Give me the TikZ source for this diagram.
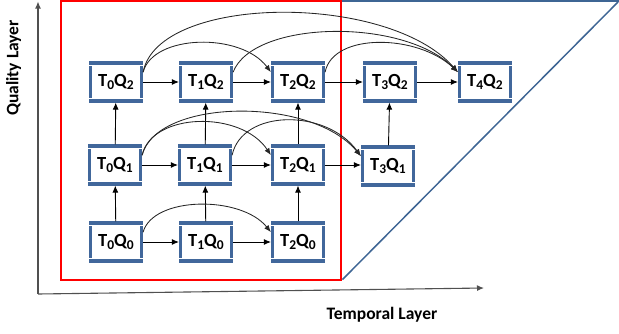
\documentclass[tikz,border=0pt]{standalone}
\usepackage{fontspec}
\setmainfont{Carlito}
\usetikzlibrary{arrows.meta,calc}
\definecolor{boxblue}{HTML}{41679B}
\definecolor{triblue}{HTML}{3E6594}
\definecolor{axisgray}{HTML}{505050}
\newcommand\sbs[1]{\raisebox{-2.8pt}{\fontsize{13.5}{15}\selectfont #1}}
\newcommand\lab[2]{T\sbs{#1}Q\sbs{#2}}
\tikzset{
  stepbox/.style={draw=boxblue, line width=3.2pt, fill=white, minimum width=51pt,
    minimum height=38pt, inner sep=0pt, font=\fontsize{18.5}{21}\selectfont\bfseries},
  notch/.style={draw=white, line width=0.9pt},
  flow/.style={draw=black, line width=0.9pt, -{Latex[length=7pt,width=6pt]}},
  arc/.style={draw=black!85, line width=0.85pt, -{Latex[length=7pt,width=5.5pt]}},
  axis/.style={draw=axisgray, line width=1.1pt, -{Latex[length=7pt,width=6pt]}, draw},
  axlabel/.style={font=\fontsize{17.5}{20}\selectfont\bfseries, inner sep=0pt}
}
\begin{document}
\begin{tikzpicture}[x=1pt,y=-1pt]
\useasboundingbox (0,0) rectangle (619,333);
% frames
\draw[red, line width=2pt] (61,1.2) rectangle (341,280);
\draw[triblue, line width=2.2pt] (342,1.2) -- (619,1.2);
\draw[triblue, line width=1.5pt] (618,2) -- (342.5,279.5);
% axes
\coordinate (o) at (38,294);
\coordinate (ytip) at (38,1.5);
\coordinate (xtip) at (484,288);
\draw[axis] (o) -- (ytip);
\draw[axis] (o) -- (xtip);
\node[axlabel, rotate=90] (ql) at (13.5,68) {Quality Layer};
\node[axlabel] (tl) at (382,315) {Temporal Layer};
% nodes
\node[stepbox] (t0q2) at (116,82) {\lab{0}{2}};
\node[stepbox] (t1q2) at (206,82) {\lab{1}{2}};
\node[stepbox] (t2q2) at (298,82) {\lab{2}{2}};
\node[stepbox] (t3q2) at (390,82) {\lab{3}{2}};
\node[stepbox] (t4q2) at (485,82) {\lab{4}{2}};
\node[stepbox] (t0q1) at (115,165) {\lab{0}{1}};
\node[stepbox] (t1q1) at (205,165) {\lab{1}{1}};
\node[stepbox] (t2q1) at (298,165) {\lab{2}{1}};
\node[stepbox] (t3q1) at (388,166) {\lab{3}{1}};
\node[stepbox] (t0q0) at (116,242) {\lab{0}{0}};
\node[stepbox] (t1q0) at (206,242) {\lab{1}{0}};
\node[stepbox] (t2q0) at (298,242) {\lab{2}{0}};
% notches in box borders
\foreach \n in {t0q2,t1q2,t2q2,t3q2,t4q2,t0q1,t1q1,t2q1,t3q1,t0q0,t1q0,t2q0}{
  \draw[notch] ([xshift=-0.5pt,yshift=-4.5pt]\n.north west) -- ++(4pt,0pt);
  \draw[notch] ([xshift=-0.5pt,yshift=4.5pt]\n.south west) -- ++(4pt,0pt);
  \draw[notch] ([xshift=0.5pt,yshift=-4.5pt]\n.north east) -- ++(-4pt,0pt);
  \draw[notch] ([xshift=0.5pt,yshift=4.5pt]\n.south east) -- ++(-4pt,0pt);
}
% horizontal arrows
\draw[flow] (t0q2) -- (t1q2);
\draw[flow] (t1q2) -- (t2q2);
\draw[flow] (t2q2) -- (t3q2);
\draw[flow] (t3q2) -- (t4q2);
\draw[flow] (t0q1) -- (t1q1);
\draw[flow] (t1q1) -- (t2q1);
\draw[flow] (t2q1.east) -- (t2q1.east -| t3q1.west);
\draw[flow] (t0q0) -- (t1q0);
\draw[flow] (t1q0) -- (t2q0);
% vertical arrows
\draw[flow] (t0q0) -- (t0q1);
\draw[flow] (t1q0) -- (t1q1);
\draw[flow] (t2q0) -- (t2q1);
\draw[flow] (t0q1) -- (t0q2);
\draw[flow] (t1q1) -- (t1q2);
\draw[flow] (t2q1) -- (t2q2);
\draw[flow] (t3q1) -- (t3q2);
% arcs, row Q2
\draw[arc] (t0q2.20) .. controls ($(t0q2.20)+(15,-78)$) and ($(t4q2.160)+(-70,-80)$) .. (t4q2.160);
\draw[arc] (t0q2.20) .. controls ($(t0q2.20)+(10,-38)$) and ($(t2q2.160)+(-30,-40)$) .. (t2q2.160);
\draw[arc] (t1q2.20) .. controls ($(t1q2.20)+(20,-52)$) and ($(t4q2.160)+(-55,-55)$) .. (t4q2.160);
\draw[arc] (t2q2.20) .. controls ($(t2q2.20)+(8,-40)$) and ($(t4q2.160)+(-40,-38)$) .. (t4q2.160);
% arcs, row Q1
\draw[arc] (t0q1.20) .. controls ($(t0q1.20)+(15,-57)$) and ($(t3q1.160)+(-50,-60)$) .. (t3q1.160);
\draw[arc] (t0q1.20) .. controls ($(t0q1.20)+(10,-43)$) and ($(t2q1.160)+(-30,-45)$) .. (t2q1.160);
\draw[arc] (t1q1.20) .. controls ($(t1q1.20)+(10,-46)$) and ($(t3q1.160)+(-35,-48)$) .. (t3q1.160);
% arc, row Q0
\draw[arc] (t0q0.20) .. controls ($(t0q0.20)+(10,-36)$) and ($(t2q0.160)+(-30,-37)$) .. (t2q0.160);
\end{tikzpicture}
\end{document}
